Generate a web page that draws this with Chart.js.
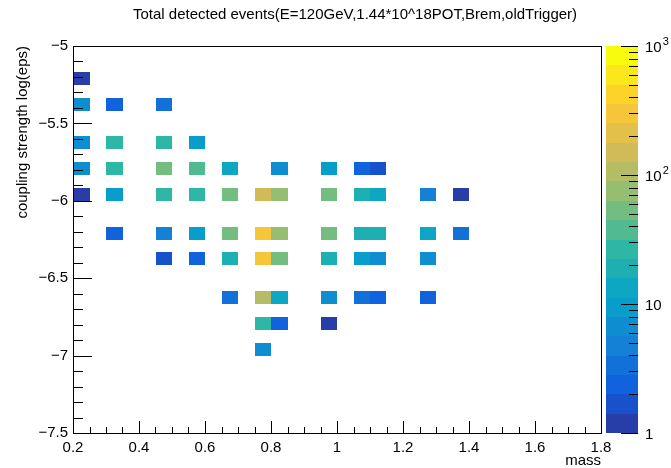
<!DOCTYPE html>
<html>
<head>
<meta charset="UTF-8">
<title>Total detected events</title>
<script src="https://cdn.jsdelivr.net/npm/chart.js"></script>
<style>
    html, body { margin: 0; padding: 0; background: #fff; }
</style>
</head>
<body>
<canvas id="eventsChart" width="671" height="468"></canvas>

<script>
    // histogram binning
    var massBinWidth = 0.05;
    var epsBinWidth = 1 / 12;

    // filled bins: lower edge in mass, lower edge in log(eps), number of events
    var cellMass = [
        0.2,
        0.2, 0.3, 0.45,
        0.2, 0.3, 0.45, 0.55,
        0.2, 0.3, 0.45, 0.55, 0.65, 0.8, 0.95, 1.05, 1.1,
        0.2, 0.3, 0.45, 0.55, 0.65, 0.75, 0.8, 0.95, 1.05, 1.1, 1.25, 1.35,
        0.3, 0.45, 0.55, 0.65, 0.75, 0.8, 0.95, 1.05, 1.1, 1.25, 1.35,
        0.45, 0.55, 0.65, 0.75, 0.8, 0.95, 1.05, 1.1, 1.25,
        0.65, 0.75, 0.8, 0.95, 1.05, 1.1, 1.25,
        0.75, 0.8, 0.95,
        0.75
    ];
    var cellEps = [
        -5.25,
        -5.4167, -5.4167, -5.4167,
        -5.6667, -5.6667, -5.6667, -5.6667,
        -5.8333, -5.8333, -5.8333, -5.8333, -5.8333, -5.8333, -5.8333, -5.8333, -5.8333,
        -6, -6, -6, -6, -6, -6, -6, -6, -6, -6, -6, -6,
        -6.25, -6.25, -6.25, -6.25, -6.25, -6.25, -6.25, -6.25, -6.25, -6.25, -6.25,
        -6.4167, -6.4167, -6.4167, -6.4167, -6.4167, -6.4167, -6.4167, -6.4167, -6.4167,
        -6.6667, -6.6667, -6.6667, -6.6667, -6.6667, -6.6667, -6.6667,
        -6.8333, -6.8333, -6.8333,
        -7
    ];
    var cellCount = [
        1,
        7, 2.5, 3.5,
        7, 28, 28, 10,
        7, 28, 55, 40, 14, 7, 10, 2.5, 1.7,
        1.2, 9, 27, 28, 55, 150, 75, 55, 20, 14, 5, 1.3,
        2.5, 5, 10, 55, 300, 75, 55, 20, 20, 13, 3.5,
        1.7, 2.5, 18, 300, 55, 18, 10, 7, 6.5,
        3.5, 110, 13, 6.5, 3, 2.4, 2.5,
        28, 2.4, 1.1,
        6.5
    ];

    // axis ticks
    var massTicks = [0.2, 0.4, 0.6, 0.8, 1, 1.2, 1.4, 1.6, 1.8];
    var epsTicks = [-7.5, -7, -6.5, -6, -5.5, -5];
    var zTicks = [1, 10, 100, 1000];
    var zTickBase = ['1', '10', '10', '10'];
    var zTickExp = ['', '', '2', '3'];

    var FONT = '"Liberation Sans", Arial, Helvetica, sans-serif';
    var nLevels = 20;
    var zDecades = 3;

    // bird palette stops
    var stops = [0.0000, 0.1250, 0.2500, 0.3750, 0.5000, 0.6250, 0.7500, 0.8750, 1.0000];
    var red   = [0.2082, 0.0592, 0.0780, 0.0232, 0.1802, 0.5301, 0.8186, 0.9956, 0.9764];
    var green = [0.1664, 0.3599, 0.5041, 0.6419, 0.7178, 0.7492, 0.7328, 0.7862, 0.9832];
    var blue  = [0.5293, 0.8684, 0.8385, 0.7914, 0.6425, 0.4662, 0.3499, 0.1968, 0.0539];

    function birdColor(t) {
        var i = 0;
        while (i < stops.length - 2 && t > stops[i + 1]) i++;
        var f = (t - stops[i]) / (stops[i + 1] - stops[i]);
        var r = Math.round(255 * (red[i] + (red[i + 1] - red[i]) * f));
        var g = Math.round(255 * (green[i] + (green[i + 1] - green[i]) * f));
        var b = Math.round(255 * (blue[i] + (blue[i + 1] - blue[i]) * f));
        return 'rgb(' + r + ',' + g + ',' + b + ')';
    }

    function bandColor(level) {
        var idx = Math.floor((level + 0.99) * 255 / nLevels);
        return birdColor(idx / 254);
    }

    function levelOf(v) {
        var lvl = Math.floor(nLevels * Math.log10(v) / zDecades);
        return Math.max(0, Math.min(nLevels - 1, lvl));
    }

    var points = cellCount.map(function (c, i) {
        return { x: cellMass[i] + massBinWidth / 2, y: cellEps[i] + epsBinWidth / 2, v: c };
    });

    // plain number labels: 1 instead of 1.0, -6 instead of -6.0, with a real minus sign
    function plainLabel(value) {
        return String(Math.round(value * 100) / 100).replace('-', '\u2212');
    }

    // coloured boxes for every filled bin
    var heatCells = {
        id: 'heatCells',
        beforeDatasetsDraw: function (chart) {
            var ctx = chart.ctx, xs = chart.scales.x, ys = chart.scales.y;
            ctx.save();
            chart.data.datasets[0].data.forEach(function (p) {
                var x0 = Math.round(xs.getPixelForValue(p.x - massBinWidth / 2));
                var x1 = Math.round(xs.getPixelForValue(p.x + massBinWidth / 2));
                var y0 = Math.round(ys.getPixelForValue(p.y + epsBinWidth / 2));
                var y1 = Math.round(ys.getPixelForValue(p.y - epsBinWidth / 2));
                ctx.fillStyle = bandColor(levelOf(p.v));
                ctx.fillRect(x0, y0, x1 - x0, y1 - y0);
            });
            ctx.restore();
        }
    };

    // frame, inner ticks, colour scale and title
    var frameAndPalette = {
        id: 'frameAndPalette',
        afterDraw: function (chart) {
            var ctx = chart.ctx, a = chart.chartArea;
            var xs = chart.scales.x, ys = chart.scales.y, zs = chart.scales.z;
            ctx.save();
            ctx.strokeStyle = '#000';
            ctx.lineWidth = 1;

            ctx.strokeRect(Math.round(a.left) + 0.5, Math.round(a.top) + 0.5,
                Math.round(a.right - a.left), Math.round(a.bottom - a.top));

            ctx.beginPath();
            var v, px, len;
            for (v = 0.2; v <= 1.8001; v += 0.05) {
                px = Math.round(xs.getPixelForValue(v)) + 0.5;
                len = Math.abs(v * 5 - Math.round(v * 5)) < 1e-6 ? 12 : 6;
                ctx.moveTo(px, a.bottom);
                ctx.lineTo(px, a.bottom - len);
            }
            for (v = -7.5; v <= -4.9999; v += 0.1) {
                px = Math.round(ys.getPixelForValue(v)) + 0.5;
                len = Math.abs(v * 2 - Math.round(v * 2)) < 1e-6 ? 19 : 10;
                ctx.moveTo(a.left, px);
                ctx.lineTo(a.left + len, px);
            }
            ctx.stroke();

            // colour scale
            var bx0 = Math.round(a.right) + 5, bx1 = bx0 + 32;
            for (var L = 0; L < nLevels; L++) {
                var yTop = Math.round(zs.getPixelForValue(Math.pow(10, zDecades * (L + 1) / nLevels)));
                var yBot = Math.round(zs.getPixelForValue(Math.pow(10, zDecades * L / nLevels)));
                ctx.fillStyle = bandColor(L);
                ctx.fillRect(bx0, yTop, bx1 - bx0, yBot - yTop);
            }
            ctx.beginPath();
            for (var d = 0; d < zDecades; d++) {
                for (var m = 1; m <= 10; m++) {
                    var zv = m * Math.pow(10, d);
                    px = Math.round(zs.getPixelForValue(zv)) + 0.5;
                    len = (m === 1 || m === 10) ? 17 : 9;
                    ctx.moveTo(bx1, px);
                    ctx.lineTo(bx1 - len, px);
                }
            }
            ctx.stroke();

            ctx.fillStyle = '#000';
            ctx.textBaseline = 'middle';
            ctx.textAlign = 'left';
            zTicks.forEach(function (z, i) {
                var ty = zs.getPixelForValue(z);
                ctx.font = '15px ' + FONT;
                ctx.fillText(zTickBase[i], bx1 + 7, ty + 2);
                if (zTickExp[i]) {
                    var w = ctx.measureText(zTickBase[i]).width;
                    ctx.font = '11px ' + FONT;
                    ctx.fillText(zTickExp[i], bx1 + 8 + w, ty - 4);
                }
            });

            ctx.font = '15px ' + FONT;
            ctx.textAlign = 'center';
            ctx.fillText('Total detected events(E=120GeV,1.44*10^18POT,Brem,oldTrigger)', 355, 15);
            ctx.restore();
        }
    };

    var ctx = document.getElementById('eventsChart').getContext('2d');
    var chart = new Chart(ctx, {
        type: 'scatter',
        data: {
            datasets: [{
                label: 'events',
                data: points,
                pointRadius: 0,
                pointHoverRadius: 0
            }]
        },
        options: {
            responsive: false,
            animation: false,
            devicePixelRatio: 1,
            layout: { padding: { top: 46, left: 0, right: 0, bottom: 0 } },
            plugins: {
                legend: { display: false },
                tooltip: { enabled: false },
                title: { display: false }
            },
            scales: {
                x: {
                    type: 'linear',
                    min: 0.2,
                    max: 1.8,
                    afterBuildTicks: function (s) { s.ticks = massTicks.map(function (v) { return { value: v }; }); },
                    afterFit: function (s) { s.height = 35; },
                    grid: { display: false, drawTicks: false },
                    border: { display: false },
                    ticks: { padding: 6, color: '#000', font: { family: FONT, size: 15 },
                        maxRotation: 0, autoSkip: false, callback: plainLabel },
                    title: { display: true, text: 'mass', align: 'end', color: '#000',
                        font: { family: FONT, size: 15, lineHeight: 1 }, padding: { top: 0, bottom: 0 } }
                },
                y: {
                    type: 'linear',
                    min: -7.5,
                    max: -5,
                    afterBuildTicks: function (s) { s.ticks = epsTicks.map(function (v) { return { value: v }; }); },
                    afterFit: function (s) { s.width = 73; },
                    grid: { display: false, drawTicks: false },
                    border: { display: false },
                    ticks: { padding: 5, color: '#000', font: { family: FONT, size: 15 },
                        autoSkip: false, callback: plainLabel },
                    title: { display: true, text: 'coupling strength log(eps)', align: 'end', color: '#000',
                        font: { family: FONT, size: 15 }, padding: { top: 14, bottom: 0 } }
                },
                z: {
                    type: 'logarithmic',
                    position: 'right',
                    min: 1,
                    max: 1000,
                    afterFit: function (s) { s.width = 70; },
                    grid: { display: false, drawTicks: false },
                    border: { display: false },
                    ticks: { display: false }
                }
            }
        },
        plugins: [heatCells, frameAndPalette]
    });
</script>
</body>
</html>
